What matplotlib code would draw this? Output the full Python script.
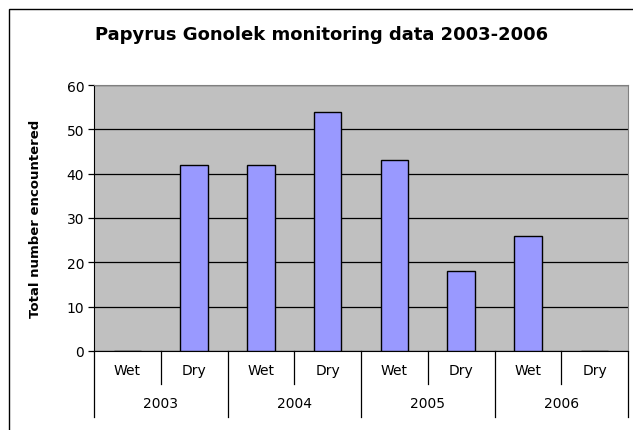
import numpy as np
import matplotlib
matplotlib.use("Agg")
import matplotlib.pyplot as plt
from matplotlib.patches import Rectangle

plt.rcParams["font.family"] = ["DejaVu Sans"]

YEARS = ["2003", "2004", "2005", "2006"]
SEASONS = ["Wet", "Dry"]
COUNTS = [0, 42, 42, 54, 43, 18, 26, 0]

fig = plt.figure(figsize=(6.33, 4.31), dpi=100)
# outer chart frame (runs off the right/bottom edges like the reference)
fig.patches.append(Rectangle((9 / 633, -0.05), 1.2, 1 - 10 / 431 + 0.05,
                             transform=fig.transFigure, fill=False,
                             edgecolor="black", linewidth=1.0))

ax = fig.add_axes([94 / 633, 1 - 352 / 431, (628 - 94) / 633, (352 - 86) / 431])
ax.set_facecolor("#C0C0C0")

x = np.arange(len(COUNTS))
ax.bar(x, COUNTS, width=0.41, color="#9999FF", edgecolor="black", linewidth=1.0, zorder=3)

ax.set_xlim(-0.5, len(COUNTS) - 0.5)
ax.set_ylim(0, 60)
ax.set_yticks(range(0, 61, 10))
ax.yaxis.grid(True, color="black", linewidth=0.9, zorder=1)
ax.set_axisbelow(True)
ax.tick_params(axis="y", direction="out", length=4, width=0.9, labelsize=10, pad=3)
ax.set_xticks([])

for side in ["top", "right"]:
    ax.spines[side].set_color("#808080")
ax.spines["left"].set_color("black")
ax.spines["bottom"].set_color("black")

ax.set_ylabel("Total number encountered", fontsize=9.5, fontweight="bold")
ax.yaxis.set_label_coords(-0.097, 0.5)

# two-level category axis
trans = ax.get_xaxis_transform()
for i in range(len(COUNTS)):
    ax.text(i, -0.07, SEASONS[i % 2], transform=trans, ha="center", va="center", fontsize=10)
for j, yr in enumerate(YEARS):
    ax.text(2 * j + 0.5, -0.195, yr, transform=trans, ha="center", va="center", fontsize=10)
for b in np.arange(-0.5, len(COUNTS), 1.0):
    k = int(b + 0.5)
    low = -0.248 if k % 2 == 0 else -0.124
    ax.plot([b, b], [0, low], transform=trans, color="black", linewidth=0.9, clip_on=False)

fig.text(322 / 633, 1 - 35 / 431, "Papyrus Gonolek monitoring data 2003-2006",
         ha="center", va="center", fontsize=13, fontweight="bold")

fig.savefig("out.png", dpi=100)
